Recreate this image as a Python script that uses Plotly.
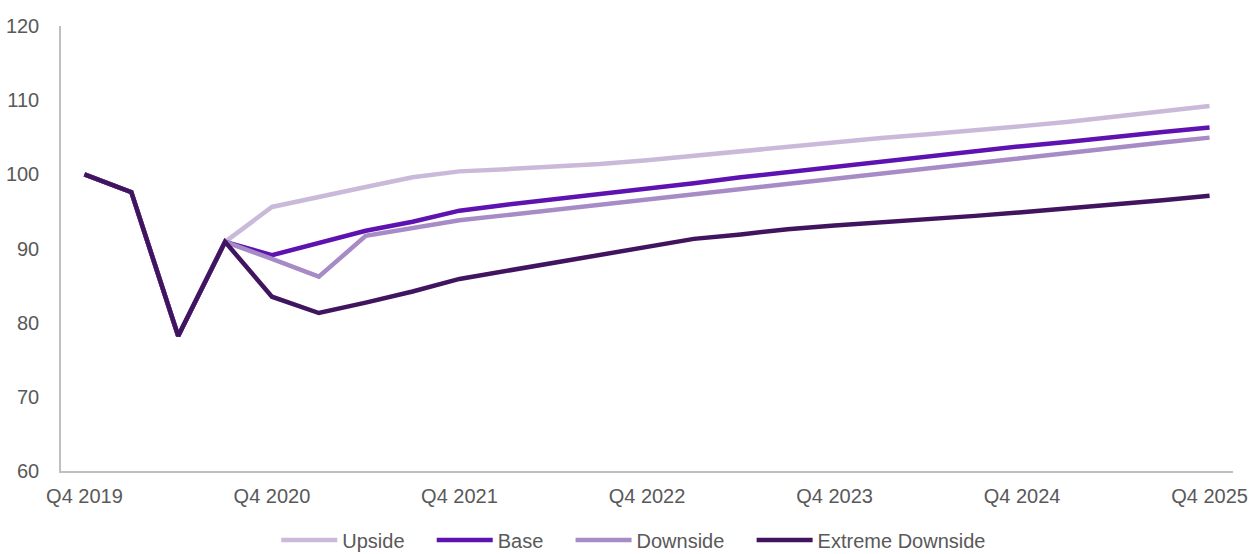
import plotly.graph_objects as go

quarters = ["Q4 2019", "Q1 2020", "Q2 2020", "Q3 2020", "Q4 2020", "Q1 2021", "Q2 2021", "Q3 2021",
            "Q4 2021", "Q1 2022", "Q2 2022", "Q3 2022", "Q4 2022", "Q1 2023", "Q2 2023", "Q3 2023",
            "Q4 2023", "Q1 2024", "Q2 2024", "Q3 2024", "Q4 2024", "Q1 2025", "Q2 2025", "Q3 2025",
            "Q4 2025"]

tick_labels = ["Q4 2019", "Q4 2020", "Q4 2021", "Q4 2022", "Q4 2023", "Q4 2024", "Q4 2025"]

upside = [100.0, 97.6, 78.2, 90.9, 95.6, 97.0, 98.3, 99.6, 100.4, 100.7, 101.0, 101.4, 101.9,
          102.5, 103.1, 103.8, 104.4, 104.9, 105.4, 105.9, 106.5, 107.1, 107.8, 108.5, 109.2]
base = [100.0, 97.6, 78.2, 90.9, 89.1, 90.7, 92.4, 93.6, 95.1, 95.9, 96.6, 97.3, 98.1,
        98.8, 99.6, 100.3, 101.1, 101.8, 102.5, 103.1, 103.8, 104.4, 105.1, 105.7, 106.3]
downside = [100.0, 97.6, 78.2, 90.9, 88.6, 86.2, 91.7, 92.7, 93.8, 94.5, 95.2, 95.9, 96.6,
            97.4, 98.1, 98.8, 99.5, 100.2, 100.9, 101.6, 102.3, 102.9, 103.6, 104.3, 104.95]
extreme = [100.0, 97.6, 78.2, 90.9, 83.5, 81.3, 82.7, 84.2, 85.9, 87.0, 88.1, 89.2, 90.3,
           91.3, 91.9, 92.6, 93.1, 93.5, 93.9, 94.4, 94.9, 95.4, 95.9, 96.5, 97.1]

names = ["Upside", "Base", "Downside", "Extreme Downside"]
colors = ["#CBB9DA", "#5E12B0", "#A78BC6", "#41145F"]
values = [upside, base, downside, extreme]

pad = "\u00a0" * 4
fig = go.Figure()
for k, (name, vals, color) in enumerate(zip(names, values, colors)):
    label = name + (pad if k < len(names) - 1 else "")
    fig.add_trace(go.Scatter(x=quarters, y=vals, name=label, mode="lines",
                             line=dict(color=color, width=4.5)))

font = dict(family="Liberation Sans, Arial, sans-serif", size=20, color="#595959")

fig.update_layout(
    template="none",
    width=1250, height=554,
    margin=dict(l=61, r=17, t=26, b=83, autoexpand=False),
    paper_bgcolor="white", plot_bgcolor="white",
    font=font,
    showlegend=True,
    legend=dict(orientation="h", x=0.507, xref="container", xanchor="center",
                y=-0.155, yref="paper", yanchor="middle",
                font=font, itemwidth=56, bgcolor="rgba(0,0,0,0)"),
    xaxis=dict(type="category", range=[-0.5, 24.5], tickmode="array", tickvals=tick_labels,
               ticktext=tick_labels, showgrid=False, showline=True, linecolor="#BFBFBF",
               linewidth=1.5, ticks="", ticklabelstandoff=6, zeroline=False, automargin=False),
    yaxis=dict(range=[60, 120], tickvals=[60, 70, 80, 90, 100, 110, 120], showgrid=False,
               showline=True, linecolor="#BFBFBF", linewidth=1.5, ticks="",
               ticklabelstandoff=16, zeroline=False, automargin=False),
)

fig.write_html("out.html")
